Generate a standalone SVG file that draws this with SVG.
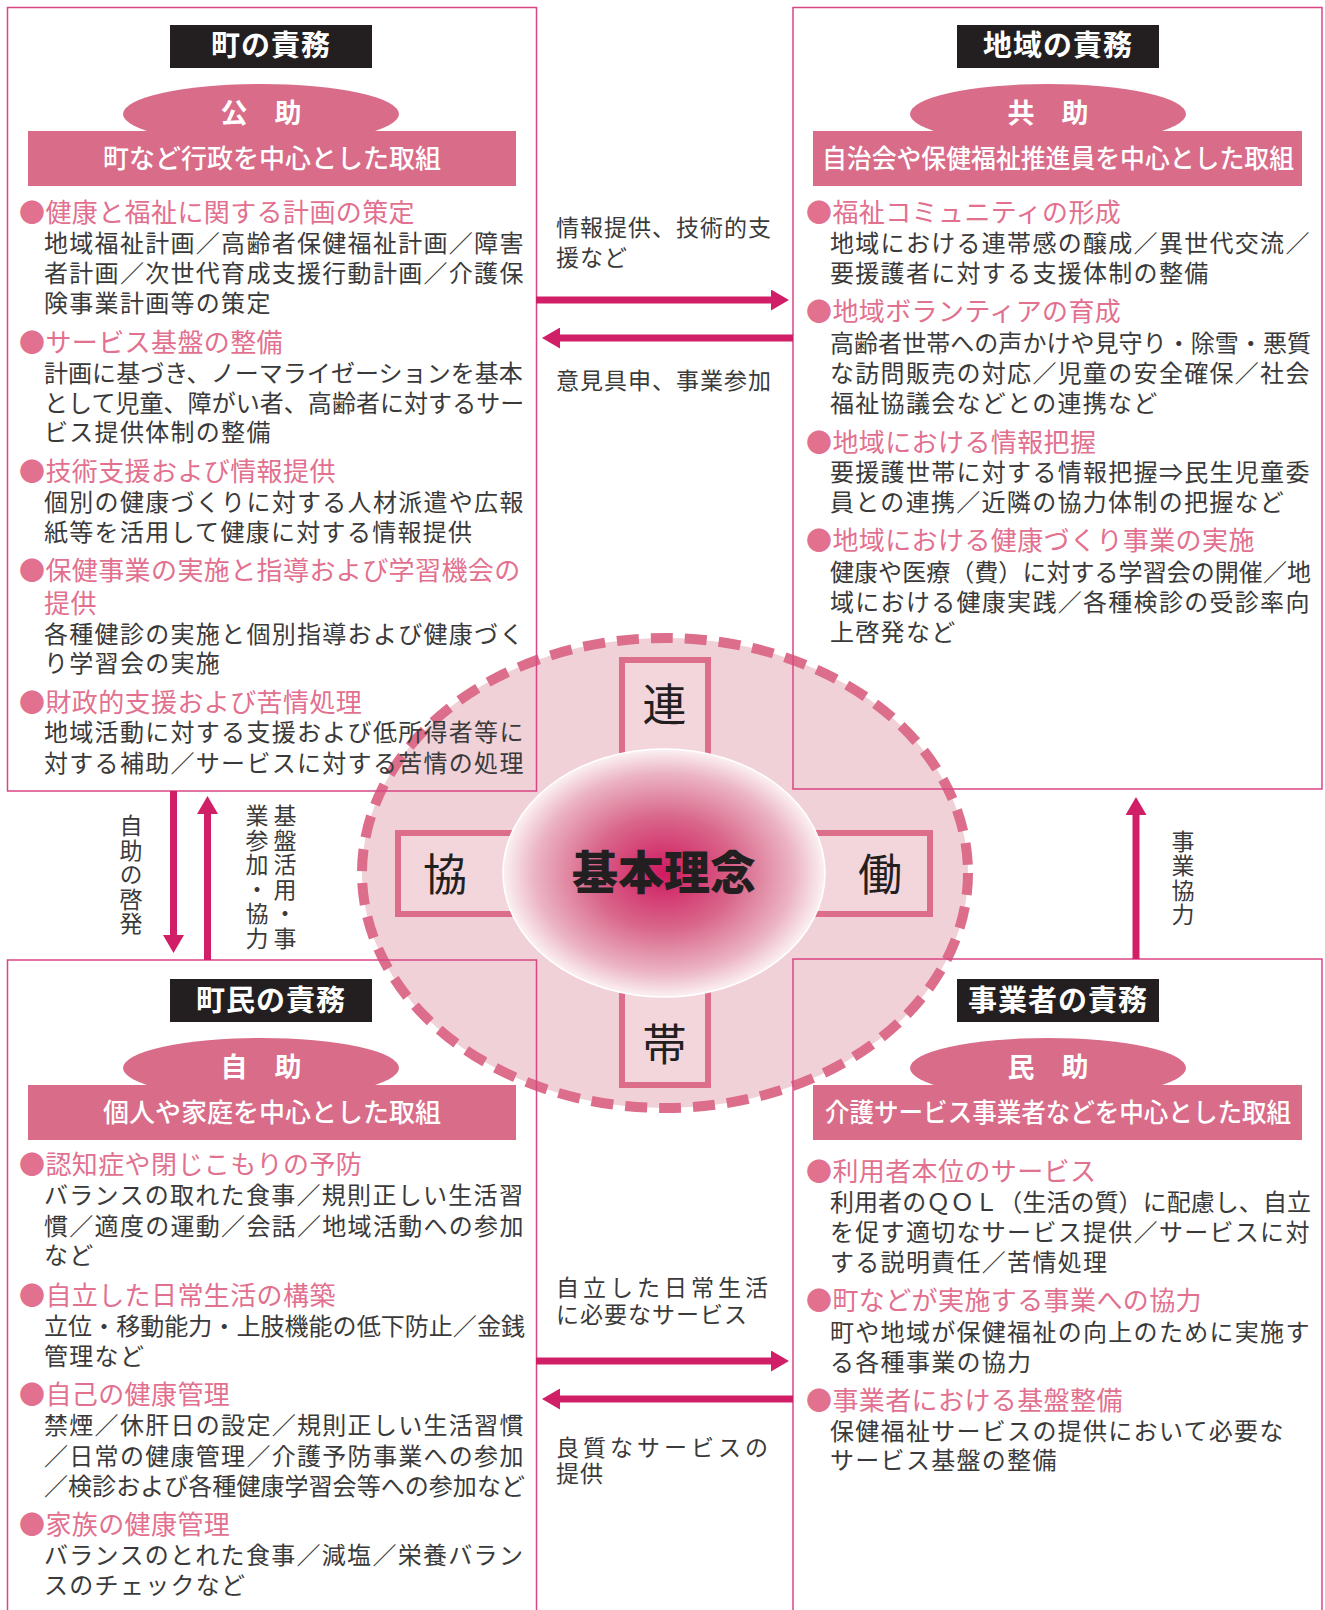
<svg xmlns="http://www.w3.org/2000/svg" width="1325" height="1610" viewBox="0 0 1325 1610">
<defs>
<style>
.box{fill:none;stroke:#d94684;stroke-width:1.5}
.ttlbg{fill:#231f20}
.ttl{font-family:"Noto Sans CJK JP",sans-serif;font-size:29px;font-weight:700;fill:#fff;text-anchor:middle;letter-spacing:1px}
.pk{fill:#d96c89}
.ell{font-family:"Noto Sans CJK JP",sans-serif;font-size:27px;font-weight:700;fill:#fff;text-anchor:middle}
.band{font-family:"Noto Sans CJK JP",sans-serif;font-size:26px;font-weight:500;fill:#fff;text-anchor:middle}
.it{font-family:"Noto Sans CJK JP",sans-serif}
.hd{font-size:26px;fill:#e2708f;letter-spacing:0.4px}
.bd{font-size:24px;fill:#3a3a3a;letter-spacing:1.3px}
.w20{letter-spacing:0.05px}
.mid{font-family:"Noto Sans CJK JP",sans-serif;font-size:23px;fill:#3a3a3a;letter-spacing:1px}
.sp{letter-spacing:4px}
.vt{font-family:"Noto Sans CJK JP",sans-serif;font-size:23px;fill:#3a3a3a;writing-mode:vertical-rl;letter-spacing:1.5px}
.arr{stroke:#d01f66;stroke-width:7;fill:none}
.cross{fill:#f2d6dc;stroke:#dc6d8b;stroke-width:6}
.big{font-family:"Noto Sans CJK JP",sans-serif;font-size:44px;fill:#231f20;text-anchor:middle}
</style>
<marker id="ah" markerUnits="userSpaceOnUse" markerWidth="18" markerHeight="21" refX="0" refY="10.5" orient="auto" viewBox="0 0 18 21">
<path d="M0,0 L18,10.5 L0,21 Z" fill="#d01f66"/>
</marker>
<radialGradient id="rg" cx="0.5" cy="0.5" r="0.5">
<stop offset="0" stop-color="#cf1a60"/>
<stop offset="0.45" stop-color="#d9668a"/>
<stop offset="0.8" stop-color="#ebb3c3"/>
<stop offset="1" stop-color="#fbf1f3"/>
</radialGradient>
</defs>
<rect width="1325" height="1610" fill="#fff"/>

<g id="center">
<ellipse cx="665" cy="873" rx="303" ry="235" fill="#f0d1d7" stroke="#dc6d8b" stroke-width="10" stroke-dasharray="22 12"/>
<rect class="cross" x="622" y="660" width="86" height="140"/>
<rect class="cross" x="622" y="945" width="86" height="140"/>
<rect class="cross" x="398" y="833" width="130" height="81"/>
<rect class="cross" x="800" y="833" width="130" height="81"/>
<text class="big" x="664.5" y="721">連</text>
<text class="big" x="664.5" y="1061">帯</text>
<text class="big" x="445" y="891">協</text>
<text class="big" x="880" y="891">働</text>
<ellipse cx="664" cy="873" rx="161" ry="124" fill="url(#rg)" stroke="#fff" stroke-width="1.5"/>
<text x="664" y="889" font-family="Noto Sans CJK JP, sans-serif" font-size="46" font-weight="900" fill="#231f20" text-anchor="middle">基本理念</text>
</g>

<g id="box-town">
<rect class="box" x="7.5" y="7.5" width="529" height="783.5"/>
<rect class="ttlbg" x="170" y="25" width="202" height="43"/>
<text class="ttl" x="271" y="56">町の責務</text>
<ellipse class="pk" cx="261" cy="114" rx="138" ry="30"/>
<rect class="pk" x="28" y="131" width="488" height="55"/>
<text class="ell" x="261" y="123">公　助</text>
<text class="band" x="272" y="168">町など行政を中心とした取組</text>
<text class="it"><tspan class="hd" x="19" y="222">●健康と福祉に関する計画の策定</tspan><tspan class="bd" x="44" y="252">地域福祉計画／高齢者保健福祉計画／障害</tspan><tspan class="bd" x="44" y="282">者計画／次世代育成支援行動計画／介護保</tspan><tspan class="bd" x="44" y="312">険事業計画等の策定</tspan></text>
<text class="it"><tspan class="hd" x="19" y="352">●サービス基盤の整備</tspan><tspan class="bd w20" x="44" y="382">計画に基づき、ノーマライゼーションを基本</tspan><tspan class="bd w20" x="44" y="411.5">として児童、障がい者、高齢者に対するサー</tspan><tspan class="bd" x="44" y="441">ビス提供体制の整備</tspan></text>
<text class="it"><tspan class="hd" x="19" y="481">●技術支援および情報提供</tspan><tspan class="bd" x="44" y="511">個別の健康づくりに対する人材派遣や広報</tspan><tspan class="bd" x="44" y="541">紙等を活用して健康に対する情報提供</tspan></text>
<text class="it"><tspan class="hd" x="19" y="580">●保健事業の実施と指導および学習機会の</tspan><tspan class="hd" x="44" y="613">提供</tspan><tspan class="bd" x="44" y="642.5">各種健診の実施と個別指導および健康づく</tspan><tspan class="bd" x="44" y="672">り学習会の実施</tspan></text>
<text class="it"><tspan class="hd" x="19" y="712">●財政的支援および苦情処理</tspan><tspan class="bd" x="44" y="741">地域活動に対する支援および低所得者等に</tspan><tspan class="bd" x="44" y="772">対する補助／サービスに対する苦情の処理</tspan></text>
</g>

<g id="box-region">
<rect class="box" x="793" y="7.5" width="529" height="781.5"/>
<rect class="ttlbg" x="957" y="25" width="202" height="43"/>
<text class="ttl" x="1058" y="56">地域の責務</text>
<ellipse class="pk" cx="1048" cy="114" rx="138" ry="30"/>
<rect class="pk" x="813" y="131" width="489" height="55"/>
<text class="ell" x="1048" y="123">共　助</text>
<text class="band" x="1058" y="168" textLength="472" lengthAdjust="spacingAndGlyphs">自治会や保健福祉推進員を中心とした取組</text>
<text class="it"><tspan class="hd" x="806" y="222">●福祉コミュニティの形成</tspan><tspan class="bd" x="830" y="252">地域における連帯感の醸成／異世代交流／</tspan><tspan class="bd" x="830" y="282">要援護者に対する支援体制の整備</tspan></text>
<text class="it"><tspan class="hd" x="806" y="321">●地域ボランティアの育成</tspan><tspan class="bd w20" x="830" y="352">高齢者世帯への声かけや見守り・除雪・悪質</tspan><tspan class="bd" x="830" y="382">な訪問販売の対応／児童の安全確保／社会</tspan><tspan class="bd" x="830" y="411.5">福祉協議会などとの連携など</tspan></text>
<text class="it"><tspan class="hd" x="806" y="451.5">●地域における情報把握</tspan><tspan class="bd" x="830" y="481">要援護世帯に対する情報把握⇒民生児童委</tspan><tspan class="bd" x="830" y="511">員との連携／近隣の協力体制の把握など</tspan></text>
<text class="it"><tspan class="hd" x="806" y="550">●地域における健康づくり事業の実施</tspan><tspan class="bd w20" x="830" y="581">健康や医療（費）に対する学習会の開催／地</tspan><tspan class="bd" x="830" y="611">域における健康実践／各種検診の受診率向</tspan><tspan class="bd" x="830" y="640.5">上啓発など</tspan></text>
</g>

<g id="box-citizen">
<rect class="box" x="7.5" y="960" width="529" height="660"/>
<rect class="ttlbg" x="170" y="979" width="202" height="43"/>
<text class="ttl" x="271" y="1011">町民の責務</text>
<ellipse class="pk" cx="261" cy="1068" rx="138" ry="30"/>
<rect class="pk" x="28" y="1085" width="488" height="55"/>
<text class="ell" x="261" y="1077">自　助</text>
<text class="band" x="272" y="1122">個人や家庭を中心とした取組</text>
<text class="it"><tspan class="hd" x="19" y="1174">●認知症や閉じこもりの予防</tspan><tspan class="bd" x="44" y="1204">バランスの取れた食事／規則正しい生活習</tspan><tspan class="bd" x="44" y="1235">慣／適度の運動／会話／地域活動への参加</tspan><tspan class="bd" x="44" y="1264">など</tspan></text>
<text class="it"><tspan class="hd" x="19" y="1305">●自立した日常生活の構築</tspan><tspan class="bd w20" x="44" y="1335">立位・移動能力・上肢機能の低下防止／金銭</tspan><tspan class="bd" x="44" y="1364.5">管理など</tspan></text>
<text class="it"><tspan class="hd" x="19" y="1403.5">●自己の健康管理</tspan><tspan class="bd" x="44" y="1434">禁煙／休肝日の設定／規則正しい生活習慣</tspan><tspan class="bd" x="44" y="1465">／日常の健康管理／介護予防事業への参加</tspan><tspan class="bd w20" x="44" y="1495">／検診および各種健康学習会等への参加など</tspan></text>
<text class="it"><tspan class="hd" x="19" y="1534">●家族の健康管理</tspan><tspan class="bd" x="44" y="1564">バランスのとれた食事／減塩／栄養バラン</tspan><tspan class="bd" x="44" y="1593.5">スのチェックなど</tspan></text>
</g>

<g id="box-business">
<rect class="box" x="793" y="959" width="529" height="660"/>
<rect class="ttlbg" x="957" y="979" width="202" height="43"/>
<text class="ttl" x="1058" y="1011">事業者の責務</text>
<ellipse class="pk" cx="1048" cy="1068" rx="138" ry="30"/>
<rect class="pk" x="813" y="1085" width="489" height="55"/>
<text class="ell" x="1048" y="1077">民　助</text>
<text class="band" x="1058" y="1122" textLength="466" lengthAdjust="spacingAndGlyphs">介護サービス事業者などを中心とした取組</text>
<text class="it"><tspan class="hd" x="806" y="1181">●利用者本位のサービス</tspan><tspan class="bd w20" x="830" y="1211">利用者のＱＯＬ（生活の質）に配慮し、自立</tspan><tspan class="bd" x="830" y="1241">を促す適切なサービス提供／サービスに対</tspan><tspan class="bd" x="830" y="1271">する説明責任／苦情処理</tspan></text>
<text class="it"><tspan class="hd" x="806" y="1310">●町などが実施する事業への協力</tspan><tspan class="bd" x="830" y="1341">町や地域が保健福祉の向上のために実施す</tspan><tspan class="bd" x="830" y="1371">る各種事業の協力</tspan></text>
<text class="it"><tspan class="hd" x="806" y="1410">●事業者における基盤整備</tspan><tspan class="bd" x="830" y="1439.5">保健福祉サービスの提供において必要な</tspan><tspan class="bd" x="830" y="1469">サービス基盤の整備</tspan></text>
</g>

<g id="connectors">
<line class="arr" x1="536" y1="300" x2="771" y2="300" marker-end="url(#ah)"/>
<line class="arr" x1="793" y1="338" x2="560" y2="338" marker-end="url(#ah)"/>
<line class="arr" x1="536" y1="1361" x2="771" y2="1361" marker-end="url(#ah)"/>
<line class="arr" x1="793" y1="1399" x2="560" y2="1399" marker-end="url(#ah)"/>
<line class="arr" x1="173.5" y1="791" x2="173.5" y2="935" marker-end="url(#ah)"/>
<line class="arr" x1="207.5" y1="960" x2="207.5" y2="814" marker-end="url(#ah)"/>
<line class="arr" x1="1136" y1="959" x2="1136" y2="815" marker-end="url(#ah)"/>
<text class="mid"><tspan x="556" y="236">情報提供、技術的支</tspan><tspan x="556" y="266">援など</tspan></text>
<text class="mid" x="556" y="389">意見具申、事業参加</text>
<text class="mid"><tspan class="sp" x="556" y="1296">自立した日常生活</tspan><tspan x="556" y="1323">に必要なサービス</tspan></text>
<text class="mid"><tspan class="sp" x="556" y="1456">良質なサービスの</tspan><tspan x="556" y="1482">提供</tspan></text>
<text class="vt" x="131" y="814">自助の啓発</text>
<text class="vt" x="285" y="804">基盤活用・事</text>
<text class="vt" x="257" y="804">業参加・協力</text>
<text class="vt" x="1183" y="829.5">事業協力</text>
</g>
</svg>
